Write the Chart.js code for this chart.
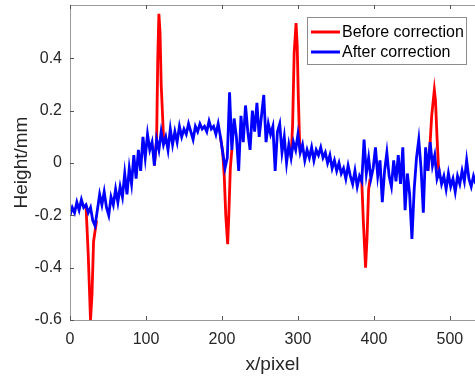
<!DOCTYPE html>
<html>
<head>
<meta charset="utf-8">
<script src="https://cdn.jsdelivr.net/npm/chart.js@4.4.1/dist/chart.umd.min.js"></script>
<style>
  html, body { margin: 0; padding: 0; background: #ffffff; }
  #c { display: block; }
</style>
</head>
<body>
<canvas id="c" width="475" height="381"></canvas>
<script>
// ---- data ----
const xTicks = [0, 100, 200, 300, 400, 500];
const yTicks = [-0.6, -0.4, -0.2, 0, 0.2, 0.4];
const xStep = 3; // sampling step of the "after correction" profile, in pixels

const afterY = [
  -0.20,-0.17,-0.19,-0.15,-0.18,-0.14,-0.17,-0.16,-0.19,-0.17,-0.22,
  -0.24,-0.18,-0.12,-0.16,-0.11,-0.17,-0.20,-0.13,-0.16,-0.10,-0.15,-0.09,-0.13,
  -0.04,-0.12,-0.02,-0.08,0.03,-0.06,0.05,-0.03,0.10,0.02,0.11,0.05,0.08,-0.01,
  0.09,0.05,0.12,0.07,0.10,0.05,0.13,0.07,0.12,0.08,0.14,0.10,0.13,0.11,0.15,
  0.12,0.09,0.14,0.12,0.15,0.13,0.14,0.12,0.16,0.13,0.14,0.11,0.15,0.10,0.04,
  -0.02,0.02,0.27,0.05,0.17,0.10,-0.03,0.18,0.08,0.22,0.12,0.05,0.20,0.12,0.23,
  0.10,0.18,0.26,0.08,0.15,0.11,0.14,-0.03,0.12,0.15,0.04,0.10,0.00,0.07,0.02,
  0.08,0.05,0.11,0.04,0.07,0.01,0.05,0.02,0.06,0.01,0.05,0.03,0.06,0.02,0.04,
  0.00,0.03,-0.02,0.01,-0.03,0.00,-0.04,-0.02,-0.06,-0.01,-0.05,-0.08,-0.03,
  -0.09,-0.05,-0.07,0.09,-0.04,0.02,-0.06,-0.02,0.06,-0.05,0.01,-0.15,-0.03,
  0.04,-0.05,-0.09,0.01,-0.07,0.03,-0.08,0.06,-0.18,-0.04,-0.12,-0.29,-0.10,
  0.02,0.09,-0.02,-0.19,0.06,-0.03,0.08,-0.01,0.03,-0.06,-0.03,-0.08,-0.05,
  -0.10,-0.04,-0.09,-0.06,-0.11,-0.05,-0.08,-0.03,-0.07,0.01,-0.06,-0.09,-0.05,-0.08
];
const afterX = afterY.map((_, i) => i * xStep);

// "before correction" differs only at the defects (elsewhere it lies under the blue line)
const beforeX = [21,24,27,29,31,33,35, null,
                 111,114,115.5,117,118.5,120,122,123,126, null,
                 198,201,203,205,207.5,209,211,213, null,
                 291,293,295,297.5,299,300.5,302,303, null,
                 381,384,386,389,391,393,395,396, null,
                 471,474,476,479.5,481,483,485,486];
const beforeY = [-0.16,-0.35,-0.60,-0.50,-0.30,-0.26,-0.22, null,
                 -0.01,0.09,0.40,0.57,0.50,0.30,0.17,0.10,0.10, null,
                 0.10,0.04,-0.05,-0.20,-0.31,-0.20,-0.02,0.05, null,
                 0.02,0.15,0.42,0.535,0.45,0.25,0.10,0.04, null,
                 -0.05,-0.07,-0.22,-0.40,-0.28,-0.10,-0.06,-0.06, null,
                 -0.03,0.08,0.18,0.28,0.24,0.10,-0.02,-0.03];

const seriesNames = ['Before correction', 'After correction'];
const xTitle = 'x/pixel';
const yTitle = 'Height/mm';

// ---- build ----
const FONT = "Arial, 'Liberation Sans', Helvetica, sans-serif";
const beforePts = beforeX.map((x, i) => (x === null ? {x: NaN, y: null} : {x: x, y: beforeY[i]}));
const afterPts = afterX.map((x, i) => ({x: x, y: afterY[i]}));

const frame = {
  id: 'frame',
  afterDraw(chart) {
    const ctx = chart.ctx;
    const a = chart.chartArea;
    const xs = chart.scales.x, ys = chart.scales.y;
    ctx.save();
    ctx.strokeStyle = '#9a9a9a';
    ctx.lineWidth = 1;
    ctx.beginPath();
    ctx.moveTo(a.left + 0.5, a.top + 0.5);
    ctx.lineTo(a.left + 0.5, a.bottom + 0.5);
    ctx.lineTo(a.right + 2, a.bottom + 0.5);
    ctx.moveTo(a.left + 0.5, a.top + 0.5);
    ctx.lineTo(a.right + 2, a.top + 0.5);
    ctx.stroke();
    ctx.strokeStyle = '#555555';
    ctx.beginPath();
    xTicks.forEach(v => {
      const px = Math.round(xs.getPixelForValue(v)) + 0.5;
      ctx.moveTo(px, a.bottom); ctx.lineTo(px, a.bottom - 4);
      ctx.moveTo(px, a.top); ctx.lineTo(px, a.top + 4);
    });
    yTicks.forEach(v => {
      const py = Math.round(ys.getPixelForValue(v)) + 0.5;
      ctx.moveTo(a.left, py); ctx.lineTo(a.left + 4, py);
    });
    ctx.stroke();

    // axis titles
    ctx.fillStyle = '#262626';
    ctx.font = '19px ' + FONT;
    ctx.textAlign = 'center';
    ctx.textBaseline = 'alphabetic';
    ctx.fillText(xTitle, (a.left + a.right) / 2, 370);
    ctx.save();
    ctx.translate(27, (a.top + a.bottom) / 2);
    ctx.rotate(-Math.PI / 2);
    ctx.fillText(yTitle, 0, 0);
    ctx.restore();

    // legend box
    const lx = 307.5, ly = 17.5, lw = 159, lh = 47;
    ctx.fillStyle = '#ffffff';
    ctx.fillRect(lx, ly, lw, lh);
    ctx.strokeStyle = '#8c8c8c';
    ctx.lineWidth = 1;
    ctx.strokeRect(lx, ly, lw, lh);
    const colors = ['#ff0000', '#0000ff'];
    ctx.font = '16px ' + FONT;
    ctx.textAlign = 'left';
    ctx.textBaseline = 'middle';
    seriesNames.forEach((name, i) => {
      const yy = 32 + i * 20;
      ctx.strokeStyle = colors[i];
      ctx.lineWidth = 3;
      ctx.beginPath();
      ctx.moveTo(311, yy); ctx.lineTo(340, yy);
      ctx.stroke();
      ctx.fillStyle = '#000000';
      ctx.fillText(name, 342, yy + 1);
    });
    ctx.restore();
  }
};

new Chart(document.getElementById('c'), {
  type: 'line',
  data: {
    datasets: [
      { label: seriesNames[0], data: beforePts, borderColor: '#ff0000', borderWidth: 2.8,
        pointRadius: 0, tension: 0, spanGaps: false, fill: false, order: 2 },
      { label: seriesNames[1], data: afterPts, borderColor: '#0000ff', borderWidth: 2.8,
        pointRadius: 0, tension: 0, fill: false, order: 1 }
    ]
  },
  options: {
    responsive: false,
    animation: false,
    devicePixelRatio: 1,
    layout: { padding: { top: 5, left: 0, right: 0, bottom: 0 } },
    plugins: { legend: { display: false }, tooltip: { enabled: false } },
    scales: {
      x: {
        type: 'linear', min: 0, max: 533,
        grid: { display: false, drawTicks: false },
        border: { display: false },
        afterBuildTicks: s => { s.ticks = xTicks.map(v => ({value: v})); },
        afterFit: s => { s.height = 61; s.paddingLeft = 0; s.paddingRight = 0; },
        ticks: { color: '#262626', font: { family: FONT, size: 16 }, padding: 10, maxRotation: 0,
                 callback: v => String(v) }
      },
      y: {
        type: 'linear', min: -0.6, max: 0.604,
        grid: { display: false, drawTicks: false },
        border: { display: false },
        afterBuildTicks: s => { s.ticks = yTicks.map(v => ({value: v})); },
        afterFit: s => { s.width = 70; s.paddingTop = 0; s.paddingBottom = 0; },
        ticks: { color: '#262626', font: { family: FONT, size: 16 }, padding: 8,
                 callback: v => String(Math.round(v * 10) / 10) }
      }
    }
  },
  plugins: [frame]
});
</script>
</body>
</html>
